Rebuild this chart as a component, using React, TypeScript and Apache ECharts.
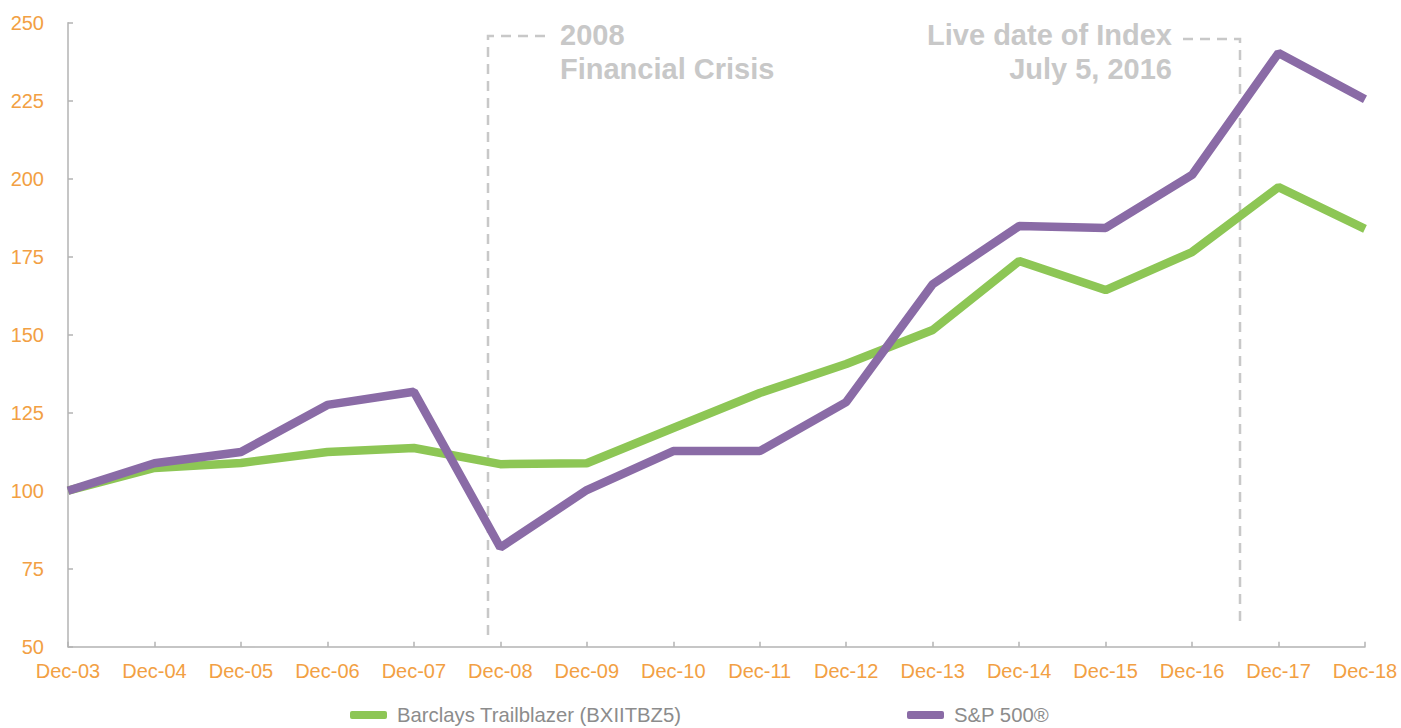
import React, { useEffect, useRef } from "react";
import * as echarts from "echarts";

const categories = ["Dec-03", "Dec-04", "Dec-05", "Dec-06", "Dec-07", "Dec-08", "Dec-09", "Dec-10", "Dec-11", "Dec-12", "Dec-13", "Dec-14", "Dec-15", "Dec-16", "Dec-17", "Dec-18"];
const barclays = [100, 107.3, 108.9, 112.4, 113.7, 108.5, 108.8, 120.1, 131.3, 140.6, 151.5, 173.6, 164.3, 176.5, 197.3, 183.9];
const sp500 = [100, 108.8, 112.4, 127.5, 131.7, 81.8, 100.2, 112.7, 112.7, 128.4, 166.2, 184.8, 184.2, 201.2, 240.3, 225.5];
const seriesNames = ["Barclays Trailblazer (BXIITBZ5)", "S&P 500®"];
const annotation1 = ["2008", "Financial Crisis"];
const annotation2 = ["Live date of Index", "July 5, 2016"];

const FONT = "Arial, 'Liberation Sans', sans-serif";
const ORANGE = "#F2A043";
const GREEN = "#8DC655";
const PURPLE = "#8A6BA6";
const ANN = "#C8C8C8";

export default function App() {
  const ref = useRef<HTMLDivElement>(null);
  useEffect(() => {
    if (!ref.current) return;
    const chart = echarts.init(ref.current, undefined, { renderer: "svg" });
    const dash = { stroke: ANN, lineWidth: 2.5, lineDash: [10, 7], fill: null };
    const legendBase = {
      top: 705,
      padding: 0,
      itemWidth: 37,
      itemHeight: 8,
      icon: "roundRect",
      textStyle: { color: "#8C8C8C", fontSize: 20.3, fontFamily: FONT, padding: [0, 0, 0, 5] },
    };
    chart.setOption({
      animation: false,
      backgroundColor: "#ffffff",
      textStyle: { fontFamily: FONT },
      grid: { left: 68, right: 36, top: 22.7, bottom: 81.3, containLabel: false },
      legend: [
        { ...legendBase, left: 350, data: [seriesNames[0]] },
        { ...legendBase, left: 907, data: [seriesNames[1]] },
      ],
      xAxis: {
        type: "category",
        data: categories,
        boundaryGap: false,
        axisLine: { lineStyle: { color: "#B3B3B3", width: 1.5 } },
        axisTick: { inside: true, length: 5, lineStyle: { color: "#B3B3B3", width: 1.5 } },
        axisLabel: { color: ORANGE, fontSize: 20, margin: 14, fontFamily: FONT, interval: 0 },
        splitLine: { show: false },
      },
      yAxis: {
        type: "value",
        min: 50,
        max: 250,
        interval: 25,
        axisLine: { show: true, lineStyle: { color: "#B3B3B3", width: 1.5 } },
        axisTick: { show: true, inside: true, length: 5, lineStyle: { color: "#B3B3B3", width: 1.5 } },
        axisLabel: { color: ORANGE, fontSize: 20, margin: 24, fontFamily: FONT },
        splitLine: { show: false },
      },
      graphic: [
        { type: "polyline", shape: { points: [[545, 36], [488, 36], [488, 636]] }, style: dash, z: 1 },
        { type: "polyline", shape: { points: [[1183, 39], [1240, 39], [1240, 622]] }, style: dash, z: 1 },
        { type: "text", x: 560, y: 35, style: { text: annotation1[0], fill: ANN, font: `bold 29px ${FONT}`, textAlign: "left", textVerticalAlign: "middle" } },
        { type: "text", x: 560, y: 69, style: { text: annotation1[1], fill: ANN, font: `bold 29px ${FONT}`, textAlign: "left", textVerticalAlign: "middle" } },
        { type: "text", x: 1172, y: 35, style: { text: annotation2[0], fill: ANN, font: `bold 29px ${FONT}`, textAlign: "right", textVerticalAlign: "middle" } },
        { type: "text", x: 1172, y: 69, style: { text: annotation2[1], fill: ANN, font: `bold 29px ${FONT}`, textAlign: "right", textVerticalAlign: "middle" } },
      ],
      series: [
        {
          name: seriesNames[0],
          type: "line",
          data: barclays,
          showSymbol: false,
          symbol: "none",
          lineStyle: { color: GREEN, width: 8.5 },
          itemStyle: { color: GREEN },
          z: 3,
        },
        {
          name: seriesNames[1],
          type: "line",
          data: sp500,
          showSymbol: false,
          symbol: "none",
          lineStyle: { color: PURPLE, width: 8.5 },
          itemStyle: { color: PURPLE },
          z: 4,
        },
      ],
    });
    return () => chart.dispose();
  }, []);
  return <div ref={ref} style={{ position: "fixed", left: 0, top: 0, width: 1401, height: 728 }} />;
}
